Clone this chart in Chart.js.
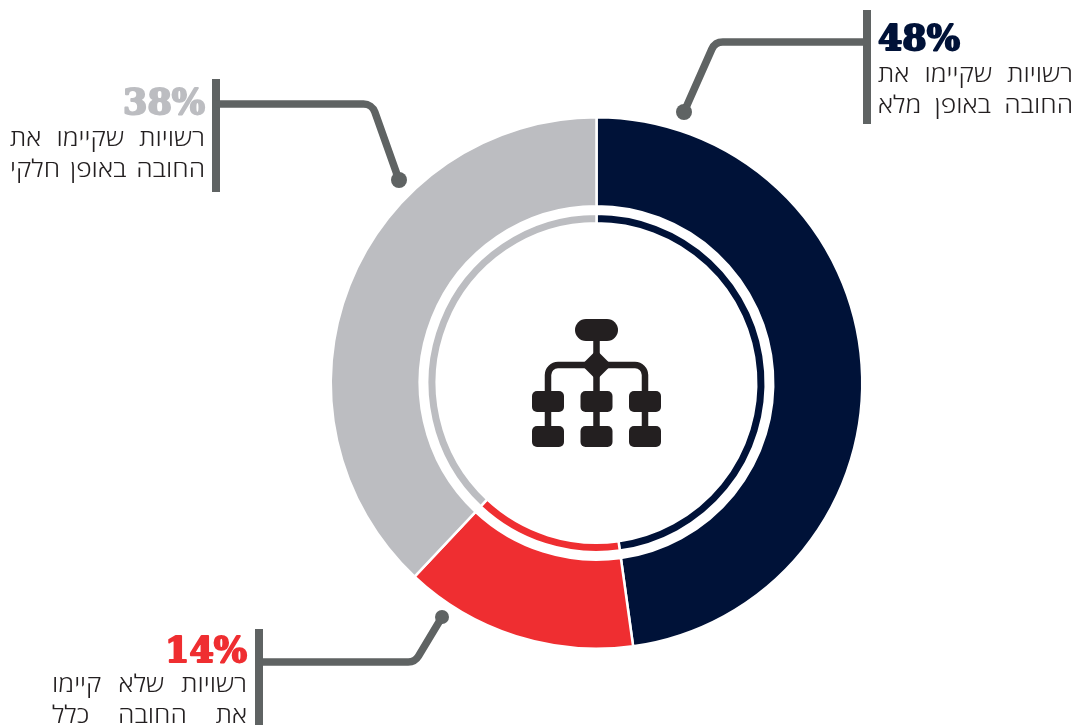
<!DOCTYPE html>
<html lang="he">
<head>
<meta charset="utf-8">
<title>Chart</title>
<script src="https://cdn.jsdelivr.net/npm/chart.js@4/dist/chart.umd.min.js"></script>
<style>
  html, body { margin: 0; padding: 0; background: #fff; overflow: hidden; }
  canvas { display: block; }
</style>
</head>
<body>
<canvas id="myChart" width="1077" height="725"></canvas>
<script>
const categories = ['מלא', 'כלל', 'חלקי'];
const shares = [47.8, 14.2, 38];
const percentLabels = ['48%', '14%', '38%'];
const labelLines = [
  ['רשויות שקיימו את', 'החובה באופן מלא'],
  ['רשויות שלא קיימו', 'את החובה כלל'],
  ['רשויות שקיימו את', 'החובה באופן חלקי']
];
const colors = ['#001238', '#EF2E31', '#BCBDC1'];

const GREY = '#5F6363';
const INK = '#231F20';

// callout furniture: bar on the text side, leader from bar to dot
const callouts = [
  { barX: 867, barTop: 10, barBottom: 124, path: [[867, 42], [715, 42], [684, 112]], dot: 8,
    pctX: 878, pctY: 50, pctAlign: 'left', textRight: 1073, textY: [82, 113] },
  { barX: 259, barTop: 629, barBottom: 725, path: [[259, 662], [415, 662], [442, 617]], dot: 7,
    pctX: 247, pctY: 662, pctAlign: 'right', textRight: 247, textY: [692, 723] },
  { barX: 216, barTop: 79, barBottom: 192, path: [[216, 104], [372, 104], [399, 180]], dot: 8,
    pctX: 205, pctY: 114, pctAlign: 'right', textRight: 205, textY: [146, 177] }
];
const TEXT_WIDTH = 195;
const TEXT_STRETCH = 1.1;

function drawCallouts(ctx) {
  callouts.forEach((c, i) => {
    ctx.save();
    ctx.strokeStyle = GREY;
    ctx.fillStyle = GREY;
    ctx.lineWidth = 8;
    ctx.beginPath();
    ctx.moveTo(c.barX, c.barTop);
    ctx.lineTo(c.barX, c.barBottom);
    ctx.stroke();

    const [a, b, d] = c.path;
    ctx.lineWidth = 7.5;
    ctx.beginPath();
    ctx.moveTo(a[0], a[1]);
    ctx.arcTo(b[0], b[1], d[0], d[1], 12);
    ctx.lineTo(d[0], d[1]);
    ctx.stroke();
    ctx.beginPath();
    ctx.arc(d[0], d[1], c.dot, 0, Math.PI * 2);
    ctx.fill();

    ctx.fillStyle = colors[i];
    ctx.strokeStyle = colors[i];
    ctx.lineWidth = 2;
    ctx.lineJoin = 'round';
    ctx.font = "900 35px 'DejaVu Serif'";
    ctx.textAlign = c.pctAlign;
    ctx.direction = 'ltr';
    ctx.textBaseline = 'alphabetic';
    ctx.fillText(percentLabels[i], c.pctX, c.pctY);
    ctx.strokeText(percentLabels[i], c.pctX, c.pctY);

    ctx.fillStyle = INK;
    ctx.font = "300 24px 'Open Sans'";
    ctx.direction = 'rtl';
    ctx.textAlign = 'right';
    labelLines[i].forEach((line, j) => {
      // lines are justified in the original
      ctx.wordSpacing = '0px';
      const gaps = line.split(' ').length - 1;
      const extra = (TEXT_WIDTH / TEXT_STRETCH - ctx.measureText(line).width) / gaps;
      ctx.wordSpacing = extra + 'px';
      ctx.save();
      ctx.translate(c.textRight, c.textY[j]);
      ctx.scale(TEXT_STRETCH, 1);
      ctx.fillText(line, 0, 0);
      ctx.restore();
    });
    ctx.restore();
  });
}

function roundBox(ctx, x, y, w, h, r) {
  ctx.beginPath();
  ctx.roundRect(x, y, w, h, r);
  ctx.fill();
}

function drawIcon(ctx, cx) {
  ctx.save();
  ctx.fillStyle = INK;
  ctx.strokeStyle = INK;
  ctx.lineWidth = 6.5;
  ctx.beginPath();
  ctx.moveTo(cx, 335);
  ctx.lineTo(cx, 440);
  ctx.moveTo(cx - 48.5, 440);
  ctx.lineTo(cx - 48.5, 375);
  ctx.arcTo(cx - 48.5, 365, cx - 38, 365, 10);
  ctx.lineTo(cx + 38, 365);
  ctx.arcTo(cx + 48.5, 365, cx + 48.5, 375, 10);
  ctx.lineTo(cx + 48.5, 440);
  ctx.stroke();
  roundBox(ctx, cx - 21.5, 319, 43, 22, 11);
  ctx.beginPath();
  ctx.moveTo(cx, 350);
  ctx.lineTo(cx + 15, 365);
  ctx.lineTo(cx, 380);
  ctx.lineTo(cx - 15, 365);
  ctx.closePath();
  ctx.fill();
  [-48.5, 0, 48.5].forEach(dx => {
    roundBox(ctx, cx + dx - 16, 391, 32, 21, 5);
    roundBox(ctx, cx + dx - 16, 426, 32, 21, 5);
  });
  ctx.restore();
}

const furniture = {
  id: 'furniture',
  afterDraw(chart) {
    const arc = chart.getDatasetMeta(0).data[0];
    drawIcon(chart.ctx, arc.x);
    drawCallouts(chart.ctx);
  }
};

const ctx = document.getElementById('myChart');

new Chart(ctx, {
  type: 'doughnut',
  data: {
    labels: categories,
    datasets: [{
      data: shares,
      backgroundColor: colors,
      borderColor: '#fff',
      borderWidth: 2.5,
      weight: 89
    }, {
      // empty ring that makes the gap between the two bands
      data: shares,
      backgroundColor: 'transparent',
      borderColor: 'transparent',
      borderWidth: 0,
      weight: 7.5
    }, {
      data: shares,
      backgroundColor: colors,
      borderColor: '#fff',
      borderWidth: 2.5,
      weight: 9.5
    }]
  },
  options: {
    responsive: false,
    animation: false,
    cutout: '60.1%',
    layout: { padding: { left: 329, right: 213, top: 116, bottom: 75 } },
    plugins: {
      legend: { display: false },
      tooltip: { enabled: false }
    }
  },
  plugins: [furniture]
});
</script>
</body>
</html>
